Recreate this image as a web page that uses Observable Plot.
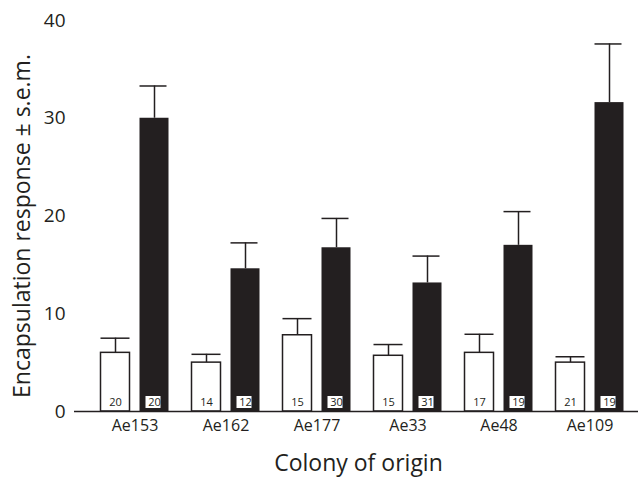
<!DOCTYPE html>
<html>
<head>
<meta charset="utf-8">
<script src="https://cdn.jsdelivr.net/npm/d3@7"></script>
<script src="https://cdn.jsdelivr.net/npm/@observablehq/plot@0.6"></script>
<style>
  html, body { margin: 0; padding: 0; background: #fff; }
  #chart svg { display: block; }
</style>
</head>
<body>
<div id="chart"></div>
<script>
const colonies = ["Ae153", "Ae162", "Ae177", "Ae33", "Ae48", "Ae109"];
const controlMean = [6.0, 5.0, 7.8, 5.7, 6.0, 5.0];
const controlSem = [1.5, 0.85, 1.7, 1.15, 1.9, 0.6];
const treatedMean = [30.0, 14.6, 16.75, 13.15, 17.0, 31.6];
const treatedSem = [3.3, 2.65, 3.0, 2.75, 3.45, 6.0];
const controlN = [20, 14, 15, 15, 17, 21];
const treatedN = [20, 12, 30, 31, 19, 19];
const yTicks = [0, 10, 20, 30, 40];

const control = colonies.map((c, i) => ({colony: c, mean: controlMean[i], hi: controlMean[i] + controlSem[i], n: controlN[i]}));
const treated = colonies.map((c, i) => ({colony: c, mean: treatedMean[i], hi: treatedMean[i] + treatedSem[i], n: treatedN[i]}));

const font = "'Open Sans', Roboto, sans-serif";
const ink = "#231f20";

const chart = Plot.plot({
  width: 644,
  height: 477,
  marginLeft: 74,
  marginRight: 6,
  marginTop: 20,
  marginBottom: 66,
  style: {fontFamily: font, color: ink, background: "white"},
  x: {domain: colonies, padding: 0, insetLeft: 12.5, tickSize: 0, tickPadding: 9, label: null},
  y: {domain: [0, 40], ticks: yTicks, tickSize: 0, tickPadding: 9, line: true, label: null},
  marks: [
    Plot.ruleX(control, {x: "colony", y1: "mean", y2: "hi", dx: -19.5, stroke: ink, strokeWidth: 1.5}),
    Plot.ruleX(treated, {x: "colony", y1: "mean", y2: "hi", dx: 19.5, stroke: ink, strokeWidth: 1.5}),
    Plot.tickY(control, {x: "colony", y: "hi", insetLeft: 11.5, insetRight: 50.5, stroke: ink, strokeWidth: 1.5}),
    Plot.tickY(treated, {x: "colony", y: "hi", insetLeft: 50.5, insetRight: 13.5, stroke: ink, strokeWidth: 1.5}),
    Plot.barY(control, {x: "colony", y: "mean", insetLeft: 11.5, insetRight: 50.5, fill: "white", stroke: ink, strokeWidth: 1.5}),
    Plot.barY(treated, {x: "colony", y: "mean", insetLeft: 50.5, insetRight: 11.5, fill: ink}),
    Plot.barY(treated, {x: "colony", y1: 0, y2: 0, insetLeft: 56.5, insetRight: 19.5, insetTop: -15, insetBottom: 3, fill: "white"}),
    Plot.text(control, {x: "colony", y: 0, text: "n", dx: -19.5, dy: -9, fontSize: 11, fill: ink}),
    Plot.text(treated, {x: "colony", y: 0, text: "n", dx: 19.5, dy: -9, fontSize: 11, fill: ink}),
    Plot.ruleY([0], {stroke: ink, strokeWidth: 1.5}),
    Plot.axisY({ticks: yTicks, tickSize: 0, tickPadding: 9, fontSize: 19, label: null}),
    Plot.axisX({tickSize: 0, tickPadding: 8, fontSize: 16, label: null}),
    Plot.text(["Encapsulation response \u00b1 s.e.m."], {frameAnchor: "left", textAnchor: "middle", lineAnchor: "middle", dx: -52, dy: 10, rotate: -90, fontSize: 23, fill: ink}),
    Plot.text(["Colony of origin"], {frameAnchor: "bottom", textAnchor: "middle", lineAnchor: "middle", dx: 2, dy: 52, fontSize: 23, fill: ink})
  ]
});
document.getElementById("chart").appendChild(chart);
</script>
</body>
</html>
